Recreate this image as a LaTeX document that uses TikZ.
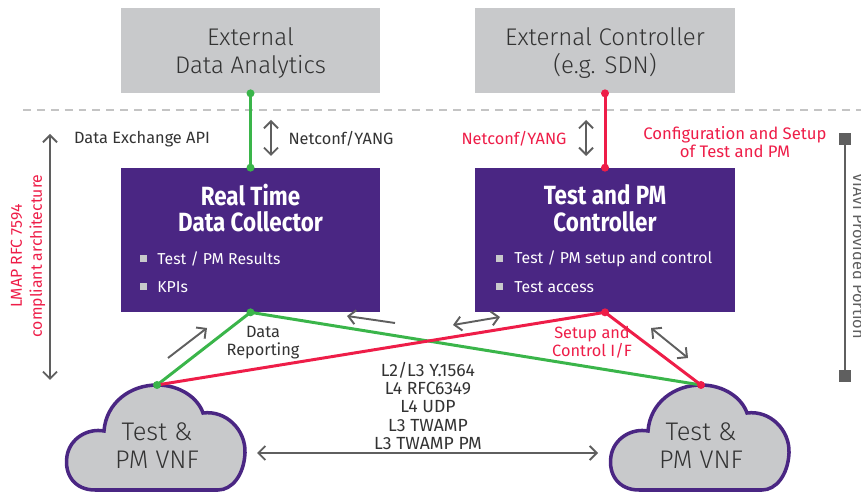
\documentclass[tikz,border=0pt]{standalone}
\usepackage{fontspec}
\setmainfont{Fira Sans}
\newfontfamily\lightfont{Fira Sans Light}
\newfontfamily\titlefont[FakeStretch=0.85]{Fira Sans}
\usetikzlibrary{arrows.meta}
\definecolor{boxgray}{HTML}{C8C9CB}
\definecolor{viaviviolet}{HTML}{4A2683}
\definecolor{lmapgreen}{HTML}{3AB54A}
\definecolor{lmapred}{HTML}{EE1D48}
\definecolor{arrowgray}{HTML}{5F5F5F}
\definecolor{textgray}{HTML}{333333}
\definecolor{dashgray}{HTML}{C4C4C4}
\begin{document}
\begin{tikzpicture}[x=0.02cm,y=-0.02cm,
    extbox/.style={fill=boxgray,minimum width=5.2cm,minimum height=1.7cm,inner sep=0pt,align=center,text=textgray,font=\lightfont\fontsize{13.7}{16}\selectfont},
    vbox/.style={fill=viaviviolet,minimum width=5.2cm,minimum height=2.88cm,inner sep=0pt},
    vtitle/.style={text=white,align=center,font=\titlefont\bfseries\fontsize{15}{15.3}\selectfont},
    item/.style={text=white,anchor=west,inner sep=0pt,font=\fontsize{9}{11}\selectfont},
    bull/.style={fill=boxgray,minimum size=0.14cm,inner sep=0pt},
    lbl/.style={text=textgray,align=center,inner sep=0pt,font=\fontsize{9.3}{10.3}\selectfont},
    redlbl/.style={lbl,text=lmapred},
    vnf/.style={text=textgray,align=center,font=\lightfont\fontsize{14.5}{16}\selectfont},
    greenline/.style={lmapgreen,line width=1.7pt},
    redline/.style={lmapred,line width=1.7pt},
    garrow/.style={arrowgray,line width=1.1pt,arrows={Straight Barb[length=4pt,width=8pt]-Straight Barb[length=4pt,width=8pt]}},
    sarrow/.style={arrowgray,line width=1.1pt,-{Straight Barb[length=4pt,width=8pt]}},
    endsq/.style={fill=arrowgray,minimum size=0.24cm,inner sep=0pt}]
    \useasboundingbox (0,0) rectangle (861,492);
    % outer boxes
    \node[extbox] (dea) at (250.5,50.5) {};
    \node[extbox] (extc) at (605,50.5) {};
    \node[extbox,fill=none] (deat) at (250.5,53) {External\\Data Analytics};
    \node[extbox,fill=none] (extct) at (605,53) {External Controller\\(e.g. SDN)};
    \draw[dashgray,line width=1.2pt,dash pattern=on 4.5pt off 3.4pt] (23,110) -- (861,110);
    % purple boxes
    \node[vbox] (rtdc) at (250.5,240) {};
    \node[vtitle] (rtdct) at (250.5,208) {Real Time\\Data Collector};
    \node[bull] (b1) at (143,259) {};
    \node[item] (i1) at (157,259) {Test / PM Results};
    \node[bull] (b2) at (143,287) {};
    \node[item] (i2) at (157,287) {KPIs};
    \node[vbox] (tpc) at (605,240) {};
    \node[vtitle] (tpct) at (605,208) {Test and PM\\Controller};
    \node[bull] (b3) at (499,259) {};
    \node[item] (i3) at (514,259) {Test / PM setup and control};
    \node[bull] (b4) at (499,287) {};
    \node[item] (i4) at (514,287) {Test access};
    % clouds
    \foreach \dx/\nm in {0/vnfL,544/vnfR} {
        \begin{scope}[shift={(\dx,0)}]
            \draw[viaviviolet,line width=2pt,fill=boxgray] (95,490) .. controls (75,490) and (64,475) .. (67,456)
                .. controls (70,438) and (88,428) .. (104,431) .. controls (106,403) and (130,385) .. (157,385)
                .. controls (180,385) and (198,398) .. (203,413) .. controls (226,410) and (246,430) .. (245,453)
                .. controls (244,475) and (232,490) .. (218,490) -- cycle;
            \node[vnf] (\nm) at (157,446) {Test \&\\PM VNF};
            \coordinate (\nm top) at (157,385);
        \end{scope}
    }
    % interfaces
    \draw[greenline] (dea.south) -- (rtdc.north);
    \draw[redline] (extc.south) -- (tpc.north);
    \draw[greenline] (vnfLtop) -- (rtdc.south) -- (vnfRtop);
    \draw[redline] (vnfLtop) -- (tpc.south) -- (vnfRtop);
    \foreach \p/\c in {dea.south/lmapgreen,rtdc.north/lmapgreen,rtdc.south/lmapgreen,vnfLtop/lmapgreen,
        extc.south/lmapred,tpc.north/lmapred,tpc.south/lmapred,vnfRtop/lmapred}
        \fill[\c] (\p) circle (4);
    % gray arrows
    \coordinate (n1a) at (271,120); \coordinate (n1b) at (271,156);
    \coordinate (n2a) at (586,120); \coordinate (n2b) at (586,156);
    \coordinate (la) at (50,134); \coordinate (lb) at (50,380);
    \coordinate (dra) at (168,358); \coordinate (drb) at (207,328);
    \coordinate (ma) at (395,323); \coordinate (mb) at (347,316);
    \coordinate (mc) at (453,325); \coordinate (md) at (500,317);
    \coordinate (sa) at (651,328); \coordinate (sb) at (688,358);
    \coordinate (ha) at (257,453); \coordinate (hb) at (598,453);
    \draw[garrow] (n1a) -- (n1b);
    \draw[garrow] (n2a) -- (n2b);
    \draw[garrow] (la) -- (lb);
    \draw[sarrow] (dra) -- (drb);
    \draw[sarrow] (ma) -- (mb);
    \draw[garrow] (mc) -- (md);
    \draw[garrow] (sa) -- (sb);
    \draw[garrow] (ha) -- (hb);
    % VIAVI portion
    \node[endsq] (vt) at (845,139) {};
    \node[endsq] (vb) at (845,376) {};
    \draw[arrowgray,line width=1.1pt] (vt) -- (vb);
    \node[lbl,text=arrowgray,rotate=-90,anchor=base] (viavi) at (853,256) {VIAVI Provided Portion};
    % labels
    \node[lbl] (dxapi) at (142,139) {Data Exchange API};
    \node[lbl] (nc1) at (341,139) {Netconf/YANG};
    \node[redlbl] (nc2) at (514,139) {Netconf/YANG};
    \node[redlbl,font=\fontsize{9.5}{10.3}\selectfont] (cfg) at (735,142) {Configuration and Setup\\of Test and PM};
    \node[redlbl,rotate=90,font=\fontsize{9}{11.3}\selectfont] (lmap) at (28,256) {LMAP RFC 7594\\compliant architecture};
    \node[lbl] (drep) at (263,343) {Data\\Reporting};
    \node[redlbl] (sctl) at (592,342) {Setup and\\Control I/F};
    \node[lbl,font=\fontsize{10}{10.4}\selectfont] (proto) at (428,406) {L2/L3 Y.1564\\L4 RFC6349\\L4 UDP\\L3 TWAMP\\L3 TWAMP PM};
\end{tikzpicture}
\end{document}
